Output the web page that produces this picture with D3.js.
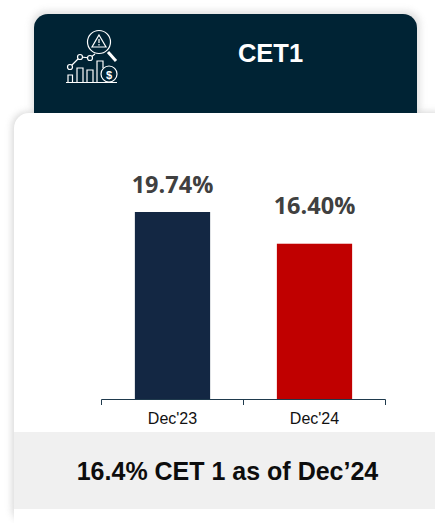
<!DOCTYPE html>
<html>
<head>
<meta charset="utf-8">
<script src="https://cdn.jsdelivr.net/npm/d3@7"></script>
<style>
html, body { margin:0; padding:0; background:#fff; overflow:hidden; }
text { font-family:"Liberation Sans", Arial, sans-serif; }
</style>
</head>
<body>
<div id="chart"></div>
<script>
var categories = ["Dec'23", "Dec'24"];
var values = [19.74, 16.40];
var valueLabels = ["19.74%", "16.40%"];
var barColors = ["#132743", "#c00000"];

var width = 435, height = 523;

var svg = d3.select("#chart").append("svg")
  .attr("width", width)
  .attr("height", height)
  .style("display", "block");

var defs = svg.append("defs");
var blur = defs.append("filter").attr("id", "soft")
  .attr("x", "-10%").attr("y", "-10%").attr("width", "120%").attr("height", "120%");
blur.append("feGaussianBlur").attr("stdDeviation", 3.5);

////////// shadows, then header, then card on top //////////
svg.append("rect").attr("x", 12).attr("y", 112).attr("width", 440).attr("height", 411)
  .attr("rx", 15).attr("fill", "#aaa").attr("opacity", .45).attr("filter", "url(#soft)");
svg.append("rect").attr("x", 32).attr("y", 11).attr("width", 388).attr("height", 110)
  .attr("rx", 14).attr("fill", "#bbb").attr("opacity", .45).attr("filter", "url(#soft)");
svg.append("rect").attr("x", 34).attr("y", 14).attr("width", 383).attr("height", 115)
  .attr("rx", 14).attr("fill", "#002334");

svg.append("text").attr("x", 270.5).attr("y", 62)
  .attr("text-anchor", "middle").attr("font-size", 25.5).attr("font-weight", "bold")
  .attr("fill", "#fff").text("CET1");

// icon
var icon = svg.append("g").attr("fill", "none").attr("stroke", "#fff").attr("stroke-width", 1.2);
icon.append("circle").attr("cx", 99).attr("cy", 42).attr("r", 11.5);
icon.append("path").attr("d", "M99 35 L106 47 L92 47 Z");
icon.append("path").attr("d", "M99 39 V43 M99 44 V45.5");
icon.append("path").attr("d", "M108 52 L116 61").attr("stroke-width", 3);
icon.append("path").attr("d", "M70 67 L80 57 L90 58 L95 54");
icon.append("circle").attr("cx", 70).attr("cy", 67).attr("r", 2.5).attr("fill", "#002334");
icon.append("circle").attr("cx", 80).attr("cy", 57).attr("r", 2.5).attr("fill", "#002334");
icon.append("circle").attr("cx", 90).attr("cy", 58).attr("r", 2.5).attr("fill", "#002334");
icon.append("path").attr("d", "M68 82 V75 H72.5 V82 M77 82 V68 H83 V82 M87 82 V70 H93 V82 M97 82 V61 H103 V68");
icon.append("path").attr("d", "M66 82.5 H117");
icon.append("circle").attr("cx", 109).attr("cy", 74).attr("r", 8);
icon.append("text").attr("x", 109).attr("y", 78.5).attr("text-anchor", "middle")
  .attr("font-size", 11).attr("font-weight", "bold").attr("fill", "#fff").attr("stroke", "none").text("$");

////////// card //////////
svg.append("rect").attr("x", 14).attr("y", 113).attr("width", 440).attr("height", 425)
  .attr("rx", 15).attr("fill", "#fff");
svg.append("rect").attr("x", 14).attr("y", 432).attr("width", 421).attr("height", 77)
  .attr("fill", "#f0f0f0");
svg.append("text").attr("x", 227.5).attr("y", 480)
  .attr("text-anchor", "middle").attr("font-size", 25).attr("font-weight", "bold")
  .attr("fill", "#0d0d0d").text("16.4% CET 1 as of Dec\u201924");

////////// bars //////////
var x = d3.scaleBand().domain(categories).range([101.5, 385.5]).paddingInner(0.47).paddingOuter(0.235);
var y = d3.scaleLinear().domain([0, 19.74]).range([399.5, 212]);

svg.selectAll(".bar").data(values).enter().append("rect")
  .attr("class", "bar")
  .attr("x", function(d, i) { return x(categories[i]); })
  .attr("y", function(d) { return y(d); })
  .attr("width", x.bandwidth())
  .attr("height", function(d) { return y(0) - y(d); })
  .attr("fill", function(d, i) { return barColors[i]; });

// the second label sits further above its bar in the reference
svg.selectAll(".val").data(values).enter().append("text")
  .attr("class", "val")
  .attr("x", function(d, i) { return x(categories[i]) + x.bandwidth() / 2; })
  .attr("y", function(d, i) { return y(d) - (i ? 30 : 19); })
  .attr("text-anchor", "middle")
  .style("font-family", "'Open Sans', sans-serif")
  .attr("font-size", 23.5)
  .attr("font-weight", "bold")
  .attr("fill", "#404040")
  .text(function(d, i) { return valueLabels[i]; });

// axis with ticks at band edges
var edges = [101.5, 243.5, 385.5];
var axis = svg.append("g").attr("stroke", "#1f3a4d").attr("fill", "none");
axis.append("line").attr("x1", edges[0]).attr("x2", edges[2]).attr("y1", 399.5).attr("y2", 399.5);
axis.selectAll(".tick").data(edges).enter().append("line").attr("class", "tick")
  .attr("x1", function(d) { return d; }).attr("x2", function(d) { return d; })
  .attr("y1", 399.5).attr("y2", 405);

svg.selectAll(".cat").data(categories).enter().append("text")
  .attr("class", "cat")
  .attr("x", function(d) { return x(d) + x.bandwidth() / 2; })
  .attr("y", 424)
  .attr("text-anchor", "middle")
  .attr("font-size", 16)
  .attr("fill", "#111")
  .text(function(d) { return d; });
</script>
</body>
</html>
